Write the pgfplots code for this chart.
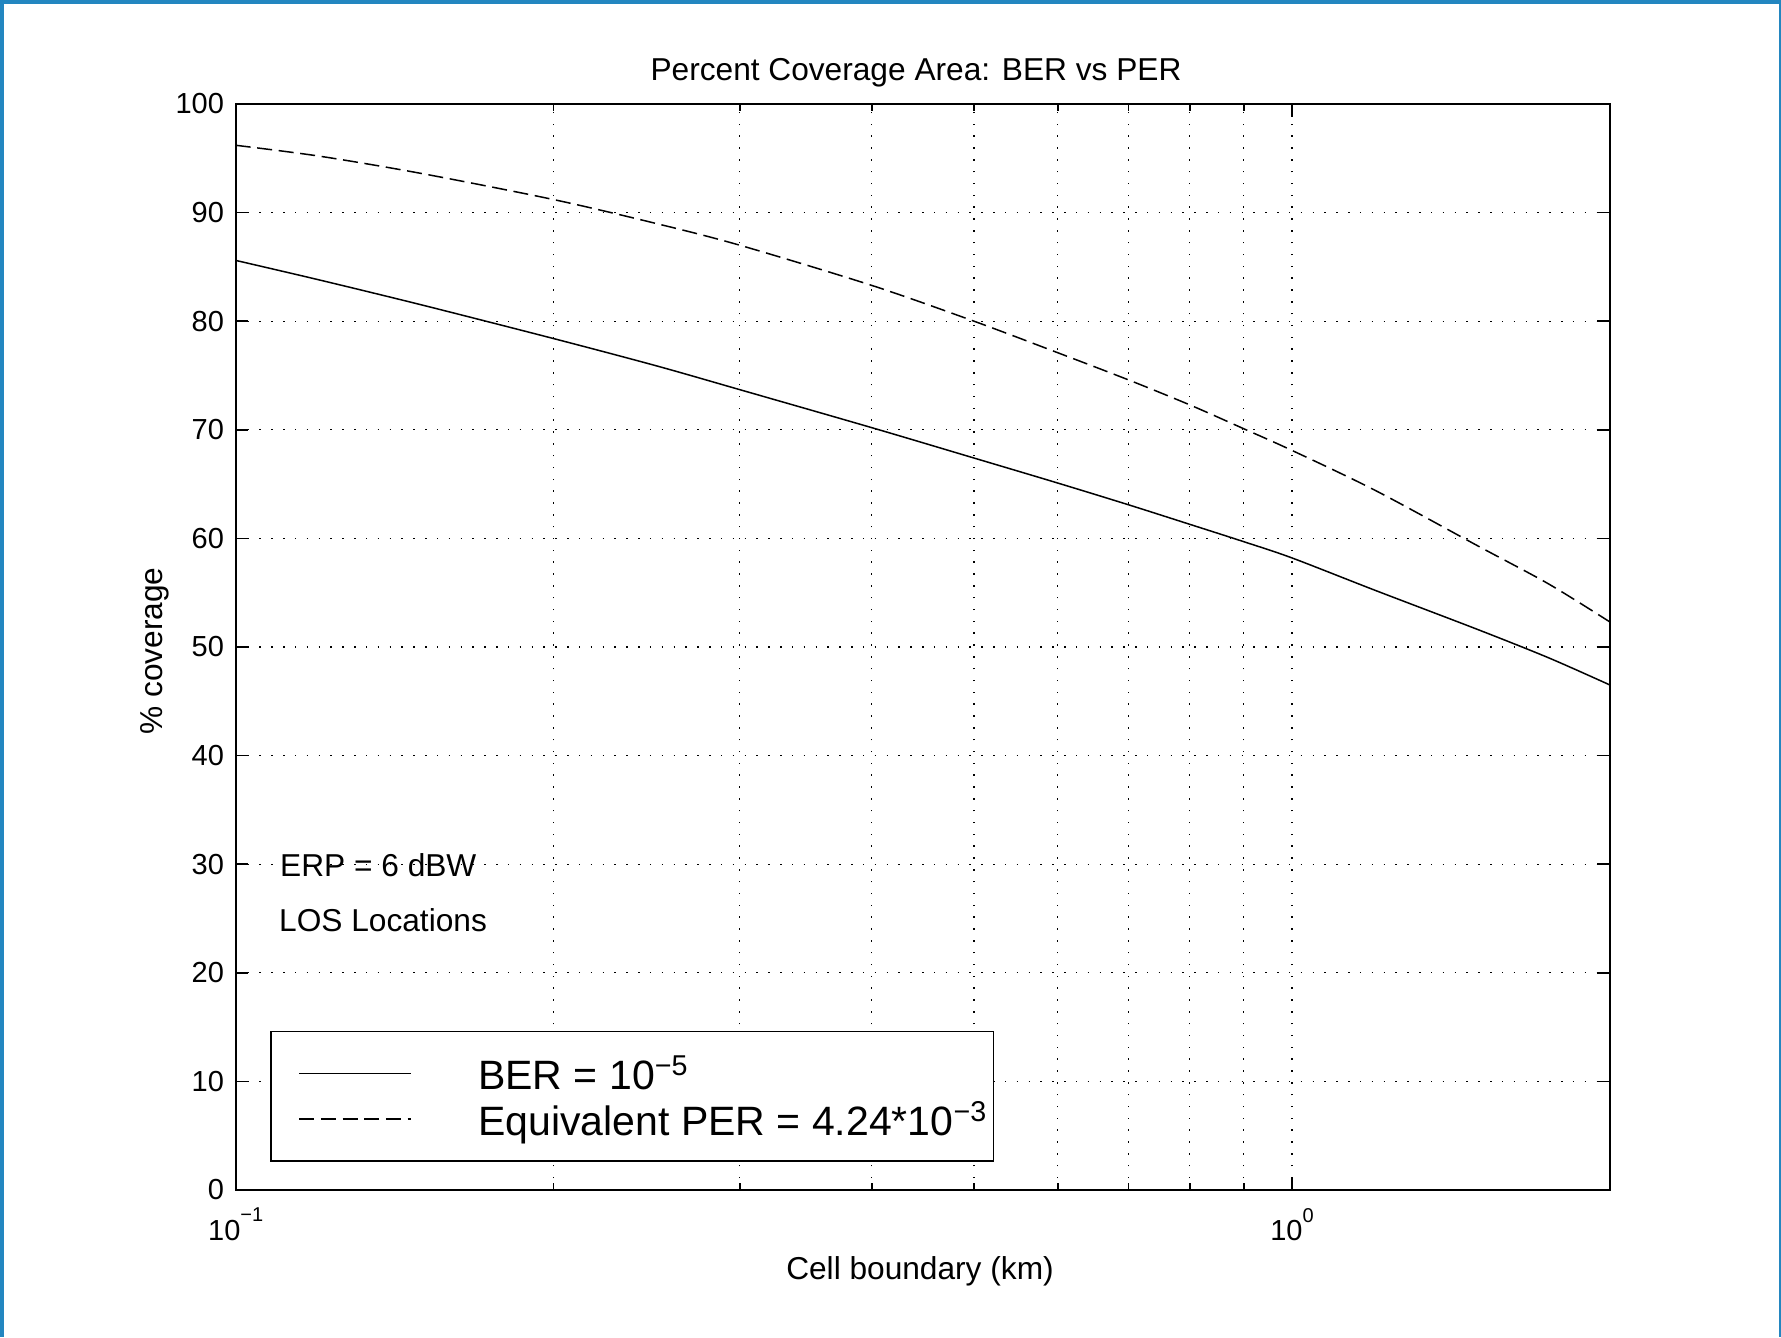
\documentclass[border=0pt]{standalone}
\usepackage{fontspec}
\setmainfont{Liberation Sans}
\usepackage{pgfplots}
\pgfplotsset{compat=1.18}
\definecolor{frameblue}{RGB}{35,134,192}
\newcommand{\tenpow}[1]{10\raisebox{5.6pt}{\fontsize{6}{6}\selectfont #1}}
\newcommand{\tenpowL}[1]{10\raisebox{4.2pt}{\fontsize{8.6}{9}\selectfont #1}}
\begin{document}
\begin{tikzpicture}
\begin{axis}[
  at={(70.71pt,44.1pt)}, anchor=south west,
  scale only axis, width=412.3pt, height=325.8pt,
  xmode=log, xmin=0.1, xmax=2, ymin=0, ymax=100,
  xtick={0.1,1}, xticklabels={\tenpow{−1},\tenpow{0}},
  minor xtick={0.2,0.3,0.4,0.5,0.6,0.7,0.8,0.9},
  ytick={0,10,...,100},
  grid=both,
  major grid style={black, line width=0.35pt, dash pattern=on 0.45pt off 3.1pt},
  minor grid style={black, line width=0.35pt, dash pattern=on 0.45pt off 3.1pt},
  tick align=inside, tick pos=both,
  major tick length=3.8pt, minor tick length=2.2pt,
  every tick/.style={black, line width=0.5pt},
  axis line style={black, line width=0.6pt},
  ticklabel style={font=\fontsize{8.7}{10}\selectfont},
  xticklabel style={yshift=-1.9pt},
  /pgf/number format/assume math mode=true,
  legend style={at={(0.0252,0.0258)}, anchor=south west, draw=black, line width=0.5pt,
    inner xsep=0pt, inner ysep=5.775pt, row sep=0pt, column sep=17.9pt,
    font=\fontsize{12.3}{14}\selectfont,
    nodes={inner xsep=2.2pt, inner ysep=0pt, text height=11.725pt, text depth=1.925pt}},
  legend cell align=left,
  legend image code/.code={\path (-8.19pt,0pt); \draw[#1] (0pt,0pt) -- (33.4pt,0pt);},
]
\addplot[black, line width=0.45pt, smooth] coordinates {
 (0.1,85.6) (0.12,83.8) (0.15,81.5) (0.2,78.4) (0.25,75.9) (0.3,73.7)
 (0.4,70.2) (0.5,67.4) (0.6,65.1) (0.7,63.1) (0.8,61.3) (0.9,59.7)
 (1.0,58.2) (1.2,55.2) (1.5,51.6) (1.75,49.0) (2.0,46.5)};
\addlegendentry{BER = \tenpowL{−5}}
\addplot[black, line width=0.45pt, smooth, dash pattern=on 4.5pt off 2pt] coordinates {
 (0.1,96.2) (0.12,95.2) (0.15,93.6) (0.2,91.2) (0.25,89.0) (0.3,87.0)
 (0.4,83.3) (0.5,80.0) (0.6,77.1) (0.7,74.6) (0.8,72.3) (0.9,70.1)
 (1.0,68.1) (1.2,64.4) (1.5,59.3) (1.75,55.8) (2.0,52.3)};
\addlegendentry{Equivalent PER = 4.24*\tenpowL{−3}}
\end{axis}
\begin{scope}[x=0.3pt,y=0.3pt]
\path (0,0) rectangle (1781,1337);
\fill[frameblue] (0,0) rectangle (4,1337);
\fill[frameblue] (0,1333) rectangle (1781,1337);
\fill[frameblue] (1779,0) rectangle (1781,1337);
\node[anchor=base, inner sep=0pt, font=\fontsize{9.5}{11}\selectfont] at (916,1256.3) {Percent Coverage Area: BER vs PER};
\node[anchor=base, inner sep=0pt, font=\fontsize{9.5}{11}\selectfont] at (920,58) {Cell boundary (km)};
\node[anchor=base, inner sep=0pt, rotate=90, font=\fontsize{9.5}{11}\selectfont] at (162.7,686) {\% coverage};
\node[anchor=base west, inner sep=0pt, font=\fontsize{9.5}{11}\selectfont] at (279.5,460.3) {ERP = 6 dBW};
\node[anchor=base west, inner sep=0pt, font=\fontsize{9.5}{11}\selectfont] at (278.5,405.3) {LOS Locations};
\end{scope}
\end{tikzpicture}
\end{document}
